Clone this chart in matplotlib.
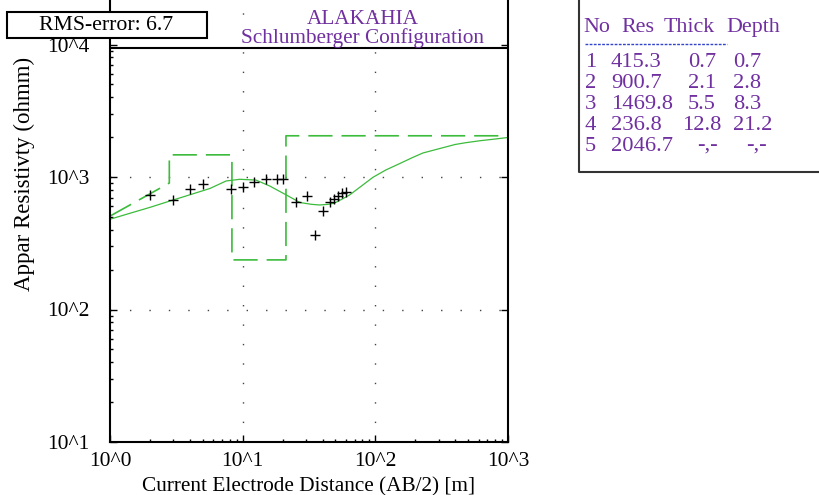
import numpy as np
import matplotlib.pyplot as plt
from matplotlib.lines import Line2D
from matplotlib.patches import Rectangle
from matplotlib.ticker import FixedLocator, NullFormatter

plt.rcParams['font.family'] = ['Liberation Serif', 'DejaVu Serif']

# measured sounding (AB/2 [m], apparent resistivity [ohmm])
ab2 = [2.0, 3.0, 4.0, 5.0, 8.2, 10.0, 12.2, 15.0, 18.0, 20.0,
       25.1, 30.3, 35.3, 40.5, 45.5, 49.0, 52.5, 56.3, 60.0]
rho_a = [731, 670, 808, 885, 808, 836, 917, 966, 966, 966,
         651, 719, 365, 554, 644, 679, 720, 753, 774]

# calculated response curve
curve_ab2 = [1.0, 1.41, 2.0, 2.83, 4.0, 5.66, 7.5, 9.5, 12.6, 16.0, 21.0,
             27.0, 33.0, 38.0, 44.0, 49.0, 56.0, 64.0, 78.0, 96.0, 120.0,
             153.0, 190.0, 228.0, 306.0, 400.0, 480.0, 620.0, 770.0, 1000.0]
curve_rho = [480, 532, 590, 659, 734, 819, 933, 961, 948, 855, 738,
             642, 622, 615, 622, 634, 680, 732, 850, 995, 1130,
             1264, 1400, 1517, 1640, 1760, 1815, 1880, 1926, 1987]

# layered model
layer_no = [1, 2, 3, 4, 5]
layer_res = [415.3, 900.7, 1469.8, 236.8, 2046.7]
layer_thick = [0.7, 2.1, 5.5, 12.8]
layer_depth = [0.7, 2.8, 8.3, 21.2]

rms = 6.7
site = "ALAKAHIA"

W, H = 820, 495
purple = '#7030a0'
green = '#3cbb3c'

fig = plt.figure(figsize=(W / 100, H / 100), dpi=100)
ax = fig.add_axes([110 / W, 1 - 442 / H, 398 / W, 442 / H])
ax.set_xscale('log')
ax.set_yscale('log')
ax.set_xlim(1, 1000)
ax.set_ylim(10, 10 ** (1 + 442 / 132.5))

# model as steps
mx = [layer_depth[0], layer_depth[1]]
my = [layer_res[0], layer_res[1]]
for i in range(1, len(layer_depth)):
    mx += [layer_depth[i], layer_depth[i]]
    my += [layer_res[i], layer_res[i + 1]]
    if i + 1 < len(layer_depth):
        mx.append(layer_depth[i + 1])
        my.append(layer_res[i + 1])
mx.append(1000)
my.append(layer_res[-1])
ax.plot(mx, my, color=green, lw=1.2, ls=(5.8, (14.5, 5.4)))

ax.plot(curve_ab2, curve_rho, color=green, lw=0.9)
ax.plot(ab2, rho_a, '+', color='black', ms=7.5, mew=1.0)

# sparse dotted grid
for v in [10, 100]:
    ax.axvline(v, color='#444444', lw=1.0, ls=(0, (1, 13)), zorder=0)
for v in [100, 1000]:
    ax.axhline(v, color='#444444', lw=1.0, ls=(0, (1, 13)), zorder=0)
ax.axhline(10 ** (1 + 394 / 132.5), color='black', lw=1.5)

ax.spines['top'].set_visible(False)
for s in ['left', 'right', 'bottom']:
    ax.spines[s].set_linewidth(1.5)

ax.set_xticks([1, 10, 100, 1000])
ax.set_xticklabels(['10^0', '10^1', '10^2', '10^3'])
ax.set_yticks([10, 100, 1000, 10000])
ax.set_yticklabels(['10^1', '10^2', '10^3', '10^4'])
ax.yaxis.set_minor_locator(FixedLocator([m * 10 ** e for e in range(1, 4) for m in range(2, 10)]))
ax.xaxis.set_minor_locator(FixedLocator([m * 10 ** e for e in range(0, 3) for m in range(2, 10)]))
ax.xaxis.set_minor_formatter(NullFormatter())
ax.yaxis.set_minor_formatter(NullFormatter())
ax.tick_params(axis='both', which='major', direction='in', length=5, width=1,
               labelsize=15.5)
ax.tick_params(axis='both', which='minor', direction='in', length=2, width=1)
ax.tick_params(axis='y', which='major', right=True, pad=15)
ax.tick_params(axis='x', which='major', pad=7)

fig.text(309 / W, 1 - 491 / H, 'Current Electrode Distance (AB/2) [m]',
         ha='center', va='baseline', fontsize=15.3)
fig.text(24 / W, 1 - 174 / H, 'Appar Resistivty (ohmm)', rotation=90,
         ha='center', va='center', fontsize=16.5)

# title
fig.text(363 / W, 1 - 24 / H, site, ha='center', va='baseline',
         fontsize=15.3, color=purple)
fig.text(363 / W, 1 - 43 / H, 'Schlumberger Configuration', ha='center',
         va='baseline', fontsize=15.3, color=purple)

# RMS box
fig.patches.append(Rectangle((7 / W, 1 - 38 / H), 200 / W, 26 / H,
                             transform=fig.transFigure, facecolor='white',
                             edgecolor='black', lw=1.5, zorder=5))
fig.text(106 / W, 1 - 25 / H, f'RMS-error: {rms}', ha='center', va='center',
         fontsize=15.7, zorder=6)

# layer table
fig.lines.append(Line2D([579 / W, 579 / W, 1], [1, 1 - 172 / H, 1 - 172 / H],
                        transform=fig.transFigure, color='#333333', lw=1.5))
for word, px in zip(['No', 'Res', 'Thick', 'Depth'], [583, 621, 664, 726]):
    fig.text(px / W, 1 - 32 / H, word, ha='left', va='baseline',
             fontsize=15.8, color=purple)
fig.lines.append(Line2D([585 / W, 727 / W], [1 - 44 / H, 1 - 44 / H],
                        transform=fig.transFigure, color='#3344cc', lw=1.0,
                        ls=(0, (2, 1))))
for i, n in enumerate(layer_no):
    yb = 1 - (67 + 21 * i) / H
    fig.text(585 / W, yb, str(n), ha='left', va='baseline', fontsize=16.2, color=purple)
    fig.text(611 / W, yb, f'{layer_res[i]:.1f}', ha='left', va='baseline',
             fontsize=16.2, color=purple)
    if i < len(layer_thick):
        fig.text(702 / W, yb, f'{layer_thick[i]:.1f}', ha='center', va='baseline',
                 fontsize=16.2, color=purple)
        fig.text(733 / W, yb, f'{layer_depth[i]:.1f}', ha='left', va='baseline',
                 fontsize=16.2, color=purple)
    else:
        fig.text(708 / W, yb, '-,-', ha='center', va='baseline', fontsize=16.2, color=purple)
        fig.text(757 / W, yb, '-,-', ha='center', va='baseline', fontsize=16.2, color=purple)

fig.savefig('out.png', dpi=100)
